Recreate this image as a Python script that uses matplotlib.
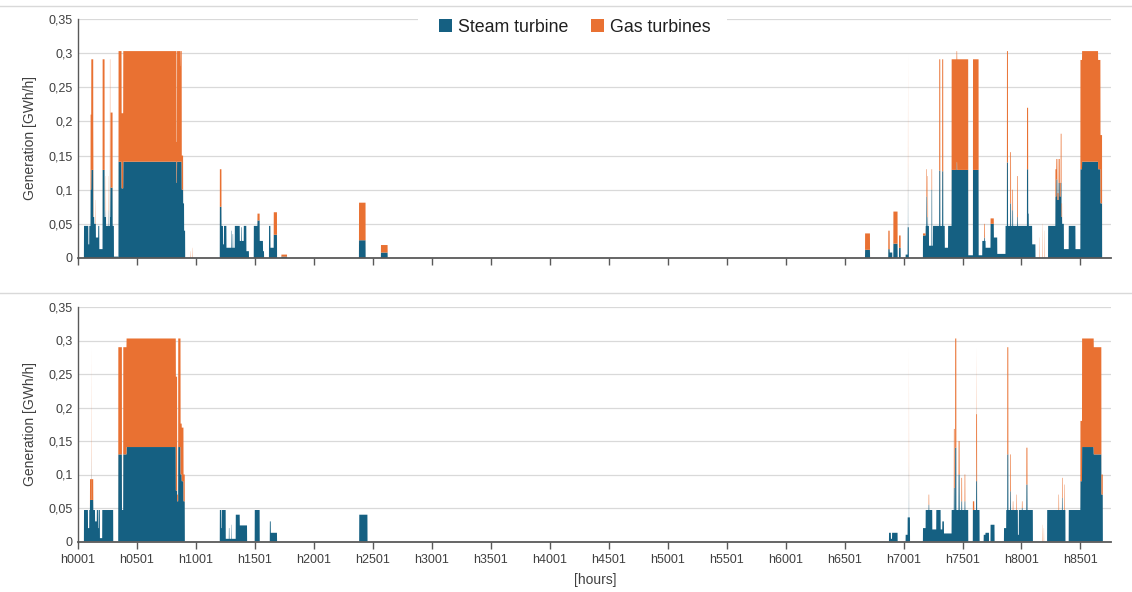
import numpy as np
import matplotlib
matplotlib.use("Agg")
import matplotlib.pyplot as plt
from matplotlib.patches import Patch, Rectangle
from matplotlib.lines import Line2D

plt.rcParams['font.family'] = ['Liberation Sans', 'DejaVu Sans']

N_HOURS = 8760
series_names = ["Steam turbine", "Gas turbines"]
x_tick_labels = ["h0001", "h0501", "h1001", "h1501", "h2001", "h2501", "h3001",
                 "h3501", "h4001", "h4501", "h5001", "h5501", "h6001", "h6501",
                 "h7001", "h7501", "h8001", "h8501"]
x_tick_hours = [0, 500, 1000, 1500, 2000, 2500, 3000, 3500, 4000, 4500, 5000,
                5500, 6000, 6500, 7000, 7500, 8000, 8500]
y_tick_values = [0, 0.05, 0.1, 0.15, 0.2, 0.25, 0.3, 0.35]
y_tick_labels = ["0", "0,05", "0,1", "0,15", "0,2", "0,25", "0,3", "0,35"]

# (start hour, end hour, steam GWh/h, gas GWh/h) -- later entries override earlier
top_left_blocks = [
    (51, 88, 0.047, 0), (88, 96, 0.020, 0), (96, 107, 0.047, 0),
    (107, 113, 0.100, 0.110), (113, 130, 0.129, 0.162), (130, 138, 0.060, 0),
    (133, 134, 0.060, 0.130), (138, 152, 0.050, 0), (148, 150, 0.050, 0.035),
    (152, 172, 0.030, 0), (172, 181, 0.047, 0), (181, 209, 0.013, 0),
    (209, 226, 0.129, 0.162), (226, 236, 0.060, 0), (236, 238, 0.070, 0.050),
    (238, 271, 0.047, 0), (255, 257, 0.070, 0.050), (271, 274, 0.129, 0.162),
    (274, 277, 0.060, 0), (277, 294, 0.103, 0.110), (294, 305, 0.047, 0),
    (305, 342, 0.002, 0), (344, 370, 0.141, 0.162), (370, 384, 0.102, 0.110),
    (384, 836, 0.141, 0.162), (836, 840, 0.110, 0.060), (840, 869, 0.141, 0.162),
    (869, 871, 0.141, 0.140), (871, 880, 0.141, 0.162), (880, 892, 0.100, 0.050),
    (892, 900, 0.080, 0), (900, 909, 0.040, 0), (955, 957, 0, 0.010),
    (972, 974, 0, 0.015),
    (1203, 1217, 0.075, 0.055), (1217, 1259, 0.047, 0), (1230, 1238, 0.020, 0),
    (1259, 1330, 0.015, 0), (1300, 1304, 0.040, 0), (1312, 1316, 0.035, 0),
    (1330, 1372, 0.047, 0), (1372, 1406, 0.025, 0), (1385, 1390, 0.045, 0),
    (1406, 1428, 0.047, 0), (1428, 1450, 0.010, 0),
    (1491, 1522, 0.047, 0), (1522, 1541, 0.055, 0.010), (1541, 1569, 0.025, 0),
    (1569, 1578, 0.010, 0), (1620, 1632, 0.047, 0), (1632, 1660, 0.015, 0),
    (1660, 1688, 0.034, 0.033), (1725, 1773, 0.002, 0.003),
    (2383, 2439, 0.026, 0.055), (2569, 2626, 0.008, 0.011),
]
top_right_blocks = [
    (6674, 6716, 0.012, 0.024), (6871, 6883, 0.013, 0.027), (6883, 6905, 0.008, 0),
    (6914, 6950, 0.021, 0.047), (6962, 6976, 0.015, 0.018), (7018, 7035, 0.005, 0),
    (7035, 7045, 0.045, 0), (7038, 7039, 0.140, 0.160),
    (7165, 7188, 0.033, 0.003), (7188, 7216, 0.047, 0), (7194, 7199, 0.090, 0.040),
    (7204, 7208, 0.060, 0.060), (7216, 7250, 0.018, 0), (7250, 7303, 0.047, 0),
    (7238, 7243, 0.100, 0.030),
    (7303, 7312, 0.128, 0.163), (7312, 7328, 0.047, 0), (7328, 7337, 0.127, 0.164),
    (7337, 7408, 0.047, 0), (7350, 7378, 0.015, 0),
    (7408, 7450, 0.129, 0.162), (7450, 7455, 0.140, 0.163), (7455, 7549, 0.129, 0.162),
    (7549, 7589, 0.004, 0), (7589, 7637, 0.129, 0.162), (7637, 7668, 0.004, 0),
    (7668, 7696, 0.025, 0), (7685, 7691, 0.030, 0.020), (7696, 7738, 0.015, 0),
    (7738, 7766, 0.050, 0.008), (7766, 7795, 0.030, 0), (7795, 7865, 0.006, 0),
    (7865, 7978, 0.047, 0), (7877, 7886, 0.140, 0.163), (7905, 7912, 0.080, 0.075),
    (7923, 7929, 0.070, 0.030), (7963, 7969, 0.060, 0.060),
    (7978, 8012, 0.047, 0), (8012, 8091, 0.047, 0), (8047, 8057, 0.130, 0.090),
    (8057, 8062, 0.065, 0), (8091, 8119, 0.020, 0),
    (8150, 8152, 0, 0.030), (8175, 8177, 0, 0.050), (8195, 8197, 0, 0.040),
    (8226, 8288, 0.047, 0), (8288, 8296, 0.090, 0.040), (8296, 8305, 0.115, 0.030),
    (8305, 8315, 0.085, 0.010), (8315, 8325, 0.110, 0.035), (8325, 8333, 0.090, 0.020),
    (8333, 8340, 0.110, 0.072), (8340, 8345, 0.060, 0.020),
    (8345, 8360, 0.050, 0), (8360, 8401, 0.013, 0), (8401, 8458, 0.047, 0),
    (8458, 8500, 0.013, 0), (8500, 8514, 0.130, 0.160), (8514, 8650, 0.141, 0.162),
    (8650, 8670, 0.130, 0.160), (8670, 8684, 0.080, 0.100),
]
bottom_left_blocks = [
    (51, 73, 0.047, 0), (73, 102, 0.047, 0), (85, 96, 0.020, 0),
    (102, 130, 0.062, 0.031), (112, 113, 0.130, 0.160), (130, 145, 0.047, 0),
    (145, 160, 0.030, 0), (160, 186, 0.047, 0), (170, 175, 0.020, 0),
    (186, 206, 0.005, 0), (206, 299, 0.047, 0),
    (342, 373, 0.130, 0.160), (373, 384, 0.047, 0), (384, 412, 0.130, 0.160),
    (412, 830, 0.141, 0.162), (830, 841, 0.076, 0.170), (841, 850, 0.060, 0.010),
    (850, 870, 0.141, 0.162), (870, 880, 0.100, 0.076), (880, 895, 0.090, 0.080),
    (895, 906, 0.060, 0.040),
    (1203, 1253, 0.047, 0), (1215, 1220, 0.020, 0), (1253, 1338, 0.004, 0),
    (1280, 1284, 0.020, 0), (1300, 1303, 0.025, 0), (1338, 1372, 0.040, 0),
    (1372, 1434, 0.024, 0), (1499, 1541, 0.047, 0), (1627, 1635, 0.030, 0),
    (1635, 1688, 0.013, 0), (2385, 2455, 0.040, 0),
]
bottom_right_blocks = [
    (6877, 6950, 0.013, 0), (6893, 6903, 0.004, 0), (7018, 7035, 0.010, 0),
    (7035, 7055, 0.036, 0), (7046, 7047, 0.120, 0.170), (7165, 7188, 0.020, 0),
    (7188, 7244, 0.047, 0), (7213, 7218, 0.055, 0.015), (7244, 7278, 0.018, 0),
    (7278, 7315, 0.047, 0), (7315, 7329, 0.018, 0), (7329, 7343, 0.030, 0),
    (7343, 7408, 0.012, 0), (7408, 7549, 0.047, 0), (7427, 7434, 0.080, 0.088),
    (7438, 7448, 0.140, 0.163), (7467, 7476, 0.100, 0.050), (7491, 7497, 0.060, 0.035),
    (7518, 7524, 0.060, 0.040), (7588, 7645, 0.047, 0), (7588, 7600, 0.047, 0.013),
    (7616, 7624, 0.090, 0.100), (7620, 7621, 0.140, 0.150),
    (7680, 7695, 0.010, 0), (7695, 7725, 0.013, 0), (7738, 7772, 0.025, 0),
    (7852, 7871, 0.020, 0), (7871, 7970, 0.047, 0), (7880, 7889, 0.130, 0.160),
    (7904, 7910, 0.075, 0.055), (7927, 7931, 0.047, 0.013), (7955, 7959, 0.047, 0.023),
    (7970, 7978, 0.010, 0), (7978, 8097, 0.047, 0), (8004, 8009, 0.050, 0.010),
    (8042, 8051, 0.085, 0.055), (8175, 8177, 0, 0.025), (8190, 8192, 0, 0.020),
    (8218, 8373, 0.047, 0), (8315, 8319, 0.047, 0.023), (8344, 8349, 0.065, 0.030),
    (8364, 8368, 0.047, 0.038), (8401, 8500, 0.047, 0), (8500, 8514, 0.090, 0.090),
    (8514, 8613, 0.141, 0.162), (8613, 8678, 0.130, 0.160), (8678, 8690, 0.070, 0.030),
]

steam_color = "#156082"
gas_color = "#E97132"
grid_color = "#D9D9D9"
axis_color = "#595959"
text_color = "#404040"


def build(blocks):
    steam = np.zeros(N_HOURS)
    gas = np.zeros(N_HOURS)
    for s, e, st, g in blocks:
        steam[s:e] = st
        gas[s:e] = g
    return steam, gas


W, H = 1132, 592
fig = plt.figure(figsize=(W / 100, H / 100), dpi=100)

hours = np.arange(N_HOURS)
panels = [
    (top_left_blocks + top_right_blocks, (78, 19, 1111, 258), False),
    (bottom_left_blocks + bottom_right_blocks, (78, 307, 1111, 541.5), True),
]
axes = []
for blocks, (x0, y0, x1, y1), show_labels in panels:
    ax = fig.add_axes([x0 / W, 1 - y1 / H, (x1 - x0) / W, (y1 - y0) / H])
    steam, gas = build(blocks)
    ax.stackplot(hours, steam, gas, colors=[steam_color, gas_color],
                 linewidth=0, antialiased=True, zorder=2)
    ax.set_xlim(0, N_HOURS - 1)
    ax.set_ylim(0, 0.35)
    ax.set_yticks(y_tick_values)
    ax.set_yticklabels(y_tick_labels)
    ax.set_xticks(x_tick_hours)
    ax.set_xticklabels(x_tick_labels if show_labels else [])
    for v in y_tick_values[1:]:
        ax.axhline(v, color=grid_color, lw=0.9, zorder=1)
    for side in ("top", "right"):
        ax.spines[side].set_visible(False)
    ax.spines["left"].set_color(axis_color)
    ax.spines["left"].set_linewidth(1.0)
    ax.spines["bottom"].set_color(axis_color)
    ax.spines["bottom"].set_linewidth(1.3)
    ax.spines["bottom"].set_zorder(3)
    ax.tick_params(axis="y", length=0, pad=4, labelsize=9, labelcolor=text_color)
    ax.tick_params(axis="x", direction="out", length=5, width=1, color=axis_color,
                   pad=4, labelsize=9, labelcolor=text_color)
    fig.text(30 / W, 1 - ((y0 + y1) / 2) / H, "Generation [GWh/h]", rotation=90,
             ha="center", va="center", fontsize=10, color=text_color)
    axes.append(ax)

fig.text(595 / W, 1 - 580 / H, "[hours]", ha="center", va="center",
         fontsize=10, color=text_color)

# white legend area that interrupts the top gridline
fig.add_artist(Rectangle((418 / W, 1 - 30 / H), (727 - 418) / W, 16 / H,
                         transform=fig.transFigure, facecolor="white",
                         edgecolor="none", zorder=4))

handles = [Patch(facecolor=steam_color, edgecolor="none", label=series_names[0]),
           Patch(facecolor=gas_color, edgecolor="none", label=series_names[1])]
leg = fig.legend(handles=handles, loc="center", bbox_to_anchor=(575 / W, 1 - 27 / H),
                 ncol=2, frameon=False, fontsize=12.8, handlelength=0.7,
                 handleheight=0.7, handletextpad=0.35, columnspacing=1.3,
                 borderpad=0.3)
leg.set_zorder(5)
for t in leg.get_texts():
    t.set_color("#1f1f1f")

for yy in (6, 293):
    fig.add_artist(Line2D([0, 1], [1 - yy / H, 1 - yy / H], color=grid_color, lw=1))

fig.savefig("out.png", dpi=100)
